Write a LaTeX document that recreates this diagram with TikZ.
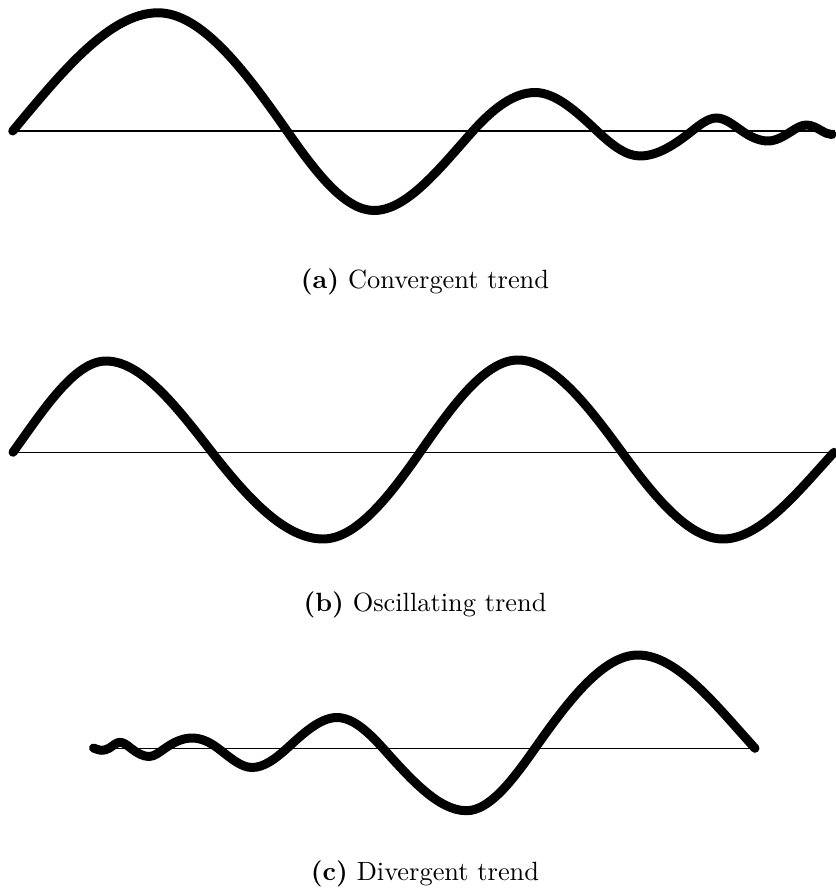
\documentclass[tikz,border=0pt]{standalone}
\begin{document}
\begin{tikzpicture}[x=0.379pt,y=-0.379pt,
  axisline/.style={line width=0.45pt,black},
  wave/.style={line width=3.4pt,black,line cap=round,line join=round},
  capt/.style={anchor=base,inner sep=0pt}]
\useasboundingbox (0,0) rectangle (835,888);
% ---------- (a) convergent ----------
\coordinate (aL) at (12,131);
\coordinate (aR) at (835,131);
\draw[axisline] (aL) -- (aR);
\draw[wave] (12.7,131)
  .. controls +(48.43,-58.1) and +(-48.43,0) .. (158,12.8)
  .. controls +(43,0) and +(-43,-61.8) .. (287,131)
  .. controls +(29,41.7) and +(-29,0) .. (374,210.5)
  .. controls +(33,0) and +(-33,36.9) .. (473,131)
  .. controls +(20.67,-23.1) and +(-20.67,0) .. (535,92.5)
  .. controls +(20.67,0) and +(-20.67,-19.5) .. (597,131)
  .. controls +(14.33,13.53) and +(-14.33,0) .. (640,156)
  .. controls +(17.33,0) and +(-17.33,13.76) .. (692,131)
  .. controls +(8.17,-6.49) and +(-8.17,0) .. (716.5,118)
  .. controls +(8.5,0) and +(-8.5,-5.95) .. (742,131)
  .. controls +(8.67,6.07) and +(-8.67,0) .. (768,141)
  .. controls +(8,0) and +(-8,5.22) .. (792,131)
  .. controls +(4.83,-3.15) and +(-4.83,0) .. (806.5,125)
  .. controls +(5.17,0) and +(-5.17,-3.0) .. (822,131)
  .. controls +(3.33,1.93) and +(-3.33,0) .. (832,134.5);
\node[capt] (capa) at (425,289) {\textbf{(a)} Convergent trend};
% ---------- (b) oscillating ----------
\coordinate (bL) at (12,452.3);
\coordinate (bR) at (835,452.3);
\draw[axisline] (bL) -- (bR);
\draw[wave] (13,452.3)
  .. controls +(31,-43.4) and +(-31,0) .. (106,361)
  .. controls +(35.33,0) and +(-35.33,-45.6) .. (212,452.3)
  .. controls +(37,47.7) and +(-37,0) .. (323,539)
  .. controls +(32.33,0) and +(-32.33,46.6) .. (420,452.3)
  .. controls +(32.67,-47.0) and +(-32.67,0) .. (518,360)
  .. controls +(34.67,0) and +(-34.67,-47.5) .. (622,452.3)
  .. controls +(33.67,46.2) and +(-33.67,0) .. (723,539)
  .. controls +(37,0) and +(-37,40.7) .. (834,452.3);
\node[capt] (capb) at (425,611) {\textbf{(b)} Oscillating trend};
% ---------- (c) divergent ----------
\coordinate (cL) at (93,748.3);
\coordinate (cR) at (755,748.3);
\draw[axisline] (cL) -- (cR);
\draw[wave] (93.5,748)
  .. controls +(2.5,0.75) and +(-2.5,0) .. (101,750.3)
  .. controls +(2.67,0) and +(-2.67,1.65) .. (109,748.3)
  .. controls +(3.67,-2.27) and +(-3.67,0) .. (120,742.3)
  .. controls +(3.67,0) and +(-3.67,-2.9) .. (131,748.3)
  .. controls +(6,4.74) and +(-6,0) .. (149,756.5)
  .. controls +(5.33,0) and +(-5.33,3.73) .. (165,748.3)
  .. controls +(9,-6.3) and +(-9,0) .. (192,738)
  .. controls +(8.67,0) and +(-8.67,-6.54) .. (218,748.3)
  .. controls +(11.33,8.56) and +(-11.33,0) .. (252,767.5)
  .. controls +(11.67,0) and +(-11.67,10.67) .. (287,748.3)
  .. controls +(16.67,-15.25) and +(-16.67,0) .. (337,717.5)
  .. controls +(15.33,0) and +(-15.33,-17.07) .. (383,748.3)
  .. controls +(27.83,30.98) and +(-27.83,0) .. (466.5,810.7)
  .. controls +(22.83,0) and +(-22.83,32.58) .. (535,748.3)
  .. controls +(34.33,-48.99) and +(-34.33,0) .. (638,655)
  .. controls +(39,0) and +(-39,-42.9) .. (755,748.3);
\node[capt] (capc) at (425,880) {\textbf{(c)} Divergent trend};
\end{tikzpicture}
\end{document}
